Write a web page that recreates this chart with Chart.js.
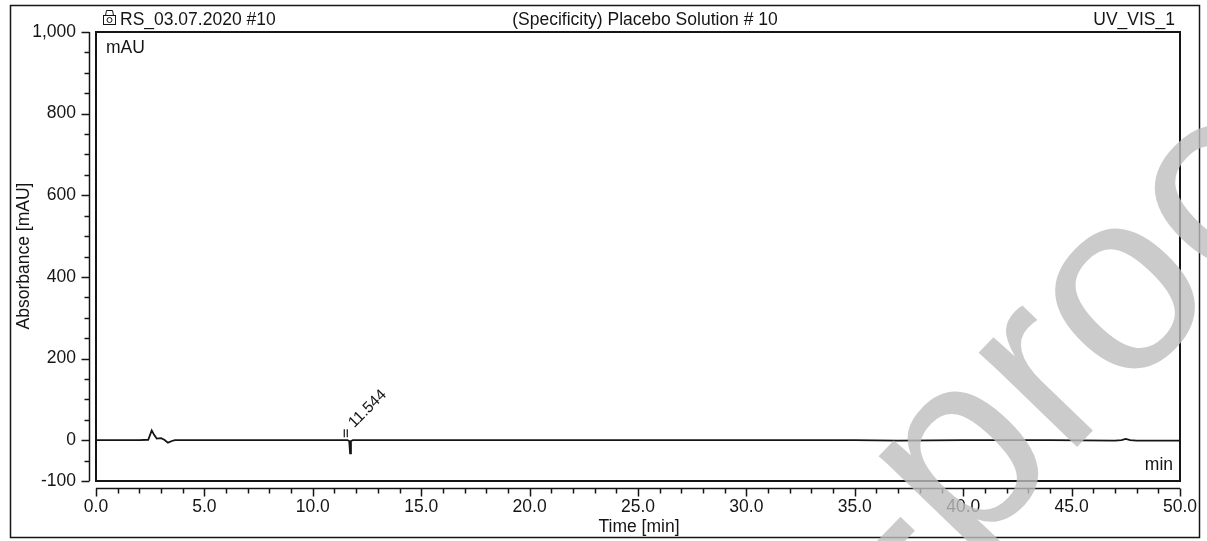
<!DOCTYPE html>
<html>
<head>
<meta charset="utf-8">
<script src="https://cdn.jsdelivr.net/npm/chart.js@4.4.1/dist/chart.umd.min.js"></script>
<style>
  html, body { margin: 0; padding: 0; background: #fff; }
  #wrap { width: 1207px; height: 541px; position: relative; }
</style>
</head>
<body>
<div id="wrap"><canvas id="c"></canvas></div>
<script>
// ---- data ----
const times = [0, 1.0, 2.0, 2.41, 2.57, 2.68, 2.8, 3.0, 3.15, 3.32, 3.5, 3.64, 5.0, 11.60, 11.68, 11.72, 11.76, 11.85, 20.0, 30.0, 35.0, 37.0, 40.0, 44.0, 47.0, 47.3, 47.5, 47.7, 48.0, 50.0];
const absorbance = [0, 0, 0, 1, 24, 13, 4, 5, 1, -6, -2, 0, 0, 0, -2, -32, -2, 0, 0, 0, 0, -1, 0, 0, -1, 0, 3, 0, -1, -1];
const xMajor = [0, 5, 10, 15, 20, 25, 30, 35, 40, 45, 50];
const xTickLabels = ['0.0', '5.0', '10.0', '15.0', '20.0', '25.0', '30.0', '35.0', '40.0', '45.0', '50.0'];
const yMajor = [-100, 0, 200, 400, 600, 800, 1000];
const yTickLabels = ['-100', '0', '200', '400', '600', '800', '1,000'];
const peakTimes = [11.544];
const peakLabels = ['11.544'];
const headerLeft = 'RS_03.07.2020 #10';
const headerTitle = '(Specificity) Placebo Solution # 10';
const headerRight = 'UV_VIS_1';

const FONT = '"Liberation Sans", Arial, sans-serif';
const FS = 17.5;
const INK = '#151515';

const points = times.map((t, i) => ({ x: t, y: absorbance[i] }));

const decor = {
  id: 'decor',
  afterDraw(chart) {
    const ctx = chart.ctx;
    const { left, top, right, bottom } = chart.chartArea;
    const xs = chart.scales.x, ys = chart.scales.y;
    ctx.save();
    ctx.strokeStyle = INK;
    ctx.fillStyle = INK;
    // outer frame
    ctx.lineWidth = 1.5;
    ctx.strokeRect(10.5, 5.5, 1189, 532);
    // plot box
    ctx.lineWidth = 2;
    ctx.strokeRect(left, top, right - left, bottom - top);

    // y axis (offset left of the box)
    const ax = left - 6.5;
    ctx.lineWidth = 1.5;
    ctx.beginPath();
    ctx.moveTo(ax, ys.getPixelForValue(1000));
    ctx.lineTo(ax, ys.getPixelForValue(-100));
    ys.ticks.forEach(t => {
      const y = Math.round(ys.getPixelForValue(t.value)) + 0.5;
      const len = yMajor.includes(t.value) ? 8 : 5;
      ctx.moveTo(ax - len, y);
      ctx.lineTo(ax, y);
    });
    ctx.stroke();

    // x axis (offset below the box)
    const ay = bottom + 7.5;
    ctx.beginPath();
    ctx.moveTo(xs.getPixelForValue(0), ay);
    ctx.lineTo(xs.getPixelForValue(50), ay);
    xs.ticks.forEach(t => {
      const x = Math.round(xs.getPixelForValue(t.value)) + 0.5;
      const len = xMajor.includes(t.value) ? 8 : 5;
      ctx.moveTo(x, ay);
      ctx.lineTo(x, ay + len);
    });
    ctx.stroke();

    // header texts
    ctx.font = FS + 'px ' + FONT;
    ctx.textBaseline = 'alphabetic';
    ctx.textAlign = 'left';
    ctx.fillText(headerLeft, 120, 25);
    ctx.textAlign = 'center';
    ctx.fillText(headerTitle, 645, 25);
    ctx.textAlign = 'right';
    ctx.fillText(headerRight, 1175, 25);

    // small icon before header
    ctx.lineWidth = 1;
    ctx.strokeRect(103.5, 15.5, 12, 9);
    ctx.beginPath();
    ctx.arc(109.5, 20, 2.5, 0, Math.PI * 2);
    ctx.moveTo(105.5, 15.5); ctx.lineTo(106.5, 10.5); ctx.lineTo(112.5, 10.5); ctx.lineTo(113.5, 15.5);
    ctx.stroke();

    // unit labels inside plot
    ctx.textAlign = 'left';
    ctx.fillText('mAU', 106, 53);
    ctx.textAlign = 'right';
    ctx.fillText('min', 1173, 470);

    // axis titles
    ctx.textAlign = 'center';
    ctx.fillText('Time [min]', 639, 532);
    ctx.save();
    ctx.translate(29, 256);
    ctx.rotate(-Math.PI / 2);
    ctx.fillText('Absorbance [mAU]', 0, 0);
    ctx.restore();

    // peak markers and labels
    peakTimes.forEach((pt, i) => {
      const px = xs.getPixelForValue(pt);
      const py = ys.getPixelForValue(0);
      ctx.lineWidth = 1.2;
      ctx.beginPath();
      ctx.moveTo(px - 2, py - 11); ctx.lineTo(px - 2, py - 3);
      ctx.moveTo(px + 1, py - 11); ctx.lineTo(px + 1, py - 3);
      ctx.stroke();
      ctx.save();
      ctx.translate(px + 8, py - 12);
      ctx.rotate(-Math.PI / 4);
      ctx.textAlign = 'left';
      ctx.font = '15.5px ' + FONT;
      ctx.fillText(peakLabels[i], 0, 0);
      ctx.restore();
    });

    // watermark
    ctx.save();
    ctx.translate(965, 563);
    ctx.rotate(-46 * Math.PI / 180);
    ctx.font = '258px ' + FONT;
    ctx.fillStyle = 'rgba(190,190,190,0.8)';
    ctx.textAlign = 'left';
    const w = ctx.measureText('Journal Pre-').width;
    ctx.fillText('Journal Pre-proof', -w, 0);
    ctx.restore();

    ctx.restore();
  }
};

new Chart(document.getElementById('c'), {
  type: 'line',
  data: {
    datasets: [{
      data: points,
      borderColor: INK,
      borderWidth: 1.8,
      pointRadius: 0,
      tension: 0,
      fill: false
    }]
  },
  options: {
    responsive: true,
    maintainAspectRatio: false,
    animation: false,
    events: [],
    layout: { padding: { left: 0, top: 32, right: 27, bottom: 0 } },
    plugins: { legend: { display: false }, tooltip: { enabled: false } },
    scales: {
      x: {
        type: 'linear',
        min: 0, max: 50,
        grid: { display: false },
        border: { display: false },
        afterFit(s) { s.height = 60; },
        ticks: {
          stepSize: 1,
          autoSkip: false,
          maxRotation: 0,
          padding: 8,
          color: INK,
          font: { family: FONT, size: FS },
          callback: (v) => { const k = xMajor.indexOf(v); return k >= 0 ? xTickLabels[k] : ''; }
        }
      },
      y: {
        type: 'linear',
        min: -100, max: 1000,
        grid: { display: false },
        border: { display: false },
        afterFit(s) { s.width = 96; },
        ticks: {
          stepSize: 50,
          autoSkip: false,
          padding: 12,
          color: INK,
          font: { family: FONT, size: FS },
          callback: (v) => { const k = yMajor.indexOf(v); return k >= 0 ? yTickLabels[k] : ''; }
        }
      }
    }
  },
  plugins: [decor]
});
</script>
</body>
</html>
